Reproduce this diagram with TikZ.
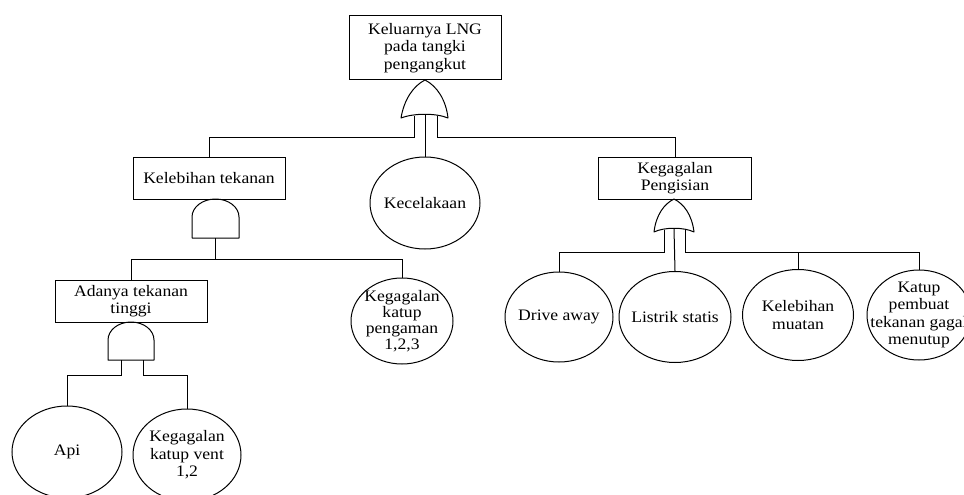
\documentclass[tikz,border=0pt]{standalone}
\usepackage{fontspec}
\setmainfont{Liberation Serif}[FakeStretch=1.1]
\usetikzlibrary{shapes.geometric}
\tikzset{
  evbox/.style={draw, rectangle, inner sep=0pt, align=center, font=\fontsize{16}{17.5}\selectfont},
  basicev/.style={draw, ellipse, inner sep=0pt},
  evtext/.style={inner sep=0pt, align=center, font=\fontsize{16}{17.5}\selectfont},
  gate/.style={draw, line join=round},
}
\begin{document}
\begin{tikzpicture}[x=1pt,y=-1pt,line width=1pt]
\useasboundingbox (0,0) rectangle (964,495);
\clip (0,0) rectangle (964,495);

% boxes
\node[evbox, minimum width=152pt, minimum height=64pt] (nTop) at (425,48) {Keluarnya LNG\\pada tangki\\pengangkut};
\node[evbox, minimum width=152pt, minimum height=42pt] (nKT) at (209,178) {Kelebihan tekanan};
\node[evbox, minimum width=153pt, minimum height=42pt] (nKP) at (675,178) {Kegagalan\\Pengisian};
\node[evbox, minimum width=152pt, minimum height=42pt] (nAT) at (131,301) {Adanya tekanan\\tinggi};

% basic events
\node[basicev, minimum width=110pt, minimum height=92pt] (nKec) at (425,203) {};
\node[evtext] (tKec) at (nKec.center) {Kecelakaan};
\node[basicev, minimum width=102pt, minimum height=86pt] (nKKP) at (402,321) {};
\node[evtext, font=\fontsize{16}{16}\selectfont] (tKKP) at (nKKP.center) {Kegagalan\\katup\\pengaman\\1,2,3};
\node[basicev, minimum width=108pt, minimum height=90pt] (nDrive) at (559,317) {};
\node[evtext] (tDrive) at (nDrive.center) {Drive away};
\node[basicev, minimum width=112pt, minimum height=91pt] (nList) at (675,317) {};
\node[evtext] (tList) at (nList.center) {Listrik statis};
\node[basicev, minimum width=111pt, minimum height=91pt] (nKM) at (798,315) {};
\node[evtext] (tKM) at (nKM.center) {Kelebihan\\muatan};
\node[basicev, minimum width=104pt, minimum height=90pt] (nKatup) at (919,315) {};
\node[evtext] (tKatup) at (nKatup.center) {Katup\\pembuat\\tekanan gagal\\menutup};
\node[basicev, minimum width=110pt, minimum height=92pt] (nApi) at (67,452) {};
\node[evtext] (tApi) at (nApi.center) {Api};
\node[basicev, minimum width=108pt, minimum height=92pt] (nVent) at (187,455) {};
\node[evtext] (tVent) at (nVent.center) {Kegagalan\\katup vent\\1,2};

% OR gate 1
\draw[gate] (401,118) .. controls (404,100) and (413,86) .. (425,80)
  .. controls (437,86) and (446,100) .. (448,118)
  .. controls (436,113) and (414,113) .. cycle;
\coordinate (g1a) at (414,115.5);
\coordinate (g1b) at (425,114.5);
\coordinate (g1c) at (437,115.5);

% OR gate 2
\draw[gate] (654,232) .. controls (656,215) and (664,204) .. (674,199)
  .. controls (684,204) and (692,215) .. (694,232)
  .. controls (684,227) and (664,227) .. cycle;
\coordinate (g2a) at (664,229.5);
\coordinate (g2b) at (674,228.5);
\coordinate (g2c) at (685,229.5);

% AND gate 1
\draw[gate] (192,238) -- (192,217) arc[start angle=180, end angle=0, x radius=23.5pt, y radius=18pt] -- (239,238) -- cycle;
\coordinate (a1out) at (215.5,238);
\coordinate (bus1) at (215.5,260);

% AND gate 2
\draw[gate] (108,360) -- (108,340) arc[start angle=180, end angle=0, x radius=23pt, y radius=18pt] -- (154,360) -- cycle;
\coordinate (a2a) at (121,360);
\coordinate (a2b) at (143,360);

\coordinate (bus2) at (798,252);

% connectors
\draw (g1a) -- ++(0,21.5) -| (nKT.north);
\draw (g1b) -- (nKec.north);
\draw (g1c) -- ++(0,21.5) -| (nKP.north);

\draw (a1out) -- (bus1);
\draw (nAT.north) -- ++(0,-20) -| (nKKP.north);

\draw (a2a) -- ++(0,15) -| (nApi.north);
\draw (a2b) -- ++(0,15) -| (nVent.north);

\draw (g2a) -- ++(0,22.5) -| (nDrive.north);
\draw (g2b) -- (nList.north);
\draw (g2c) -- ++(0,22.5) -| (nKatup.north);
\draw (bus2) -- (nKM.north);
\end{tikzpicture}
\end{document}
